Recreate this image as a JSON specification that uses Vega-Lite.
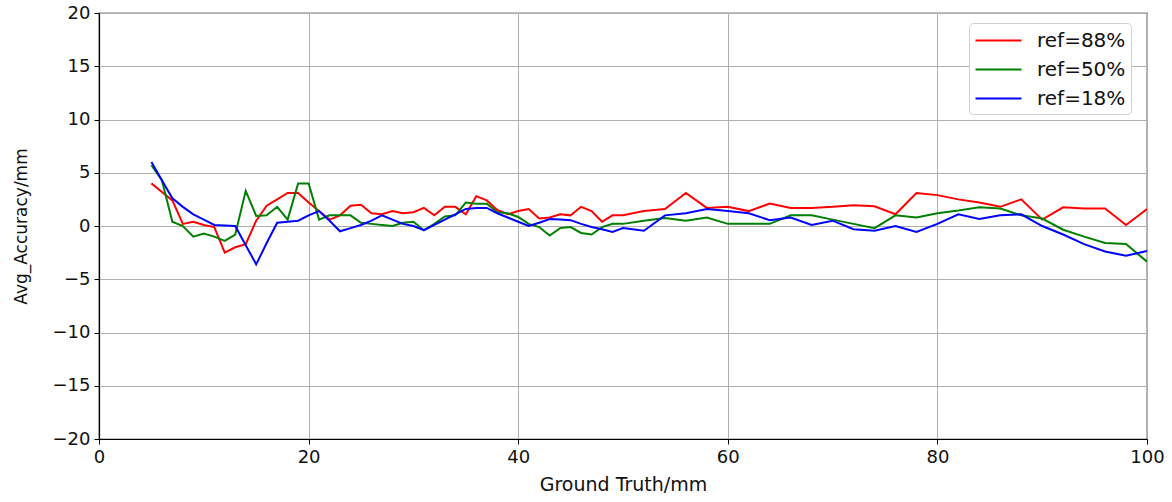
{
  "$schema": "https://vega.github.io/schema/vega-lite/v6.json",
  "width": 1048,
  "height": 426,
  "autosize": {"type": "none"},
  "padding": {"left": 99, "top": 13, "right": 25, "bottom": 63},
  "background": "white",
  "datasets": {
    "pts": [
      {"gt":5,"acc":4.0,"ref":"ref=88%"},{"gt":6,"acc":3.2,"ref":"ref=88%"},{"gt":7,"acc":2.4,"ref":"ref=88%"},{"gt":8,"acc":0.2,"ref":"ref=88%"},{"gt":9,"acc":0.4,"ref":"ref=88%"},{"gt":10,"acc":0.1,"ref":"ref=88%"},{"gt":11,"acc":-0.1,"ref":"ref=88%"},{"gt":12,"acc":-2.5,"ref":"ref=88%"},{"gt":13,"acc":-2.0,"ref":"ref=88%"},{"gt":14,"acc":-1.7,"ref":"ref=88%"},{"gt":15,"acc":0.5,"ref":"ref=88%"},{"gt":16,"acc":1.9,"ref":"ref=88%"},{"gt":17,"acc":2.5,"ref":"ref=88%"},{"gt":18,"acc":3.1,"ref":"ref=88%"},{"gt":19,"acc":3.1,"ref":"ref=88%"},{"gt":20,"acc":2.2,"ref":"ref=88%"},{"gt":21,"acc":1.4,"ref":"ref=88%"},{"gt":22,"acc":0.6,"ref":"ref=88%"},{"gt":23,"acc":1.0,"ref":"ref=88%"},{"gt":24,"acc":1.9,"ref":"ref=88%"},{"gt":25,"acc":2.0,"ref":"ref=88%"},{"gt":26,"acc":1.2,"ref":"ref=88%"},{"gt":27,"acc":1.1,"ref":"ref=88%"},{"gt":28,"acc":1.4,"ref":"ref=88%"},{"gt":29,"acc":1.2,"ref":"ref=88%"},{"gt":30,"acc":1.3,"ref":"ref=88%"},{"gt":31,"acc":1.7,"ref":"ref=88%"},{"gt":32,"acc":1.0,"ref":"ref=88%"},{"gt":33,"acc":1.8,"ref":"ref=88%"},{"gt":34,"acc":1.8,"ref":"ref=88%"},{"gt":35,"acc":1.1,"ref":"ref=88%"},{"gt":36,"acc":2.8,"ref":"ref=88%"},{"gt":37,"acc":2.4,"ref":"ref=88%"},{"gt":38,"acc":1.5,"ref":"ref=88%"},{"gt":39,"acc":1.1,"ref":"ref=88%"},{"gt":40,"acc":1.4,"ref":"ref=88%"},{"gt":41,"acc":1.6,"ref":"ref=88%"},{"gt":42,"acc":0.7,"ref":"ref=88%"},{"gt":43,"acc":0.8,"ref":"ref=88%"},{"gt":44,"acc":1.1,"ref":"ref=88%"},{"gt":45,"acc":1.0,"ref":"ref=88%"},{"gt":46,"acc":1.8,"ref":"ref=88%"},{"gt":47,"acc":1.4,"ref":"ref=88%"},{"gt":48,"acc":0.4,"ref":"ref=88%"},{"gt":49,"acc":1.0,"ref":"ref=88%"},{"gt":50,"acc":1.0,"ref":"ref=88%"},{"gt":52,"acc":1.4,"ref":"ref=88%"},{"gt":54,"acc":1.6,"ref":"ref=88%"},{"gt":56,"acc":3.1,"ref":"ref=88%"},{"gt":58,"acc":1.7,"ref":"ref=88%"},{"gt":60,"acc":1.8,"ref":"ref=88%"},{"gt":62,"acc":1.4,"ref":"ref=88%"},{"gt":64,"acc":2.1,"ref":"ref=88%"},{"gt":66,"acc":1.7,"ref":"ref=88%"},{"gt":68,"acc":1.7,"ref":"ref=88%"},{"gt":70,"acc":1.8,"ref":"ref=88%"},{"gt":72,"acc":1.95,"ref":"ref=88%"},{"gt":74,"acc":1.85,"ref":"ref=88%"},{"gt":76,"acc":1.1,"ref":"ref=88%"},{"gt":78,"acc":3.1,"ref":"ref=88%"},{"gt":80,"acc":2.9,"ref":"ref=88%"},{"gt":82,"acc":2.5,"ref":"ref=88%"},{"gt":84,"acc":2.2,"ref":"ref=88%"},{"gt":86,"acc":1.8,"ref":"ref=88%"},{"gt":88,"acc":2.5,"ref":"ref=88%"},{"gt":90,"acc":0.6,"ref":"ref=88%"},{"gt":92,"acc":1.75,"ref":"ref=88%"},{"gt":94,"acc":1.65,"ref":"ref=88%"},{"gt":96,"acc":1.65,"ref":"ref=88%"},{"gt":98,"acc":0.1,"ref":"ref=88%"},{"gt":100,"acc":1.6,"ref":"ref=88%"},

      {"gt":5,"acc":5.7,"ref":"ref=50%"},{"gt":6,"acc":4.3,"ref":"ref=50%"},{"gt":7,"acc":0.4,"ref":"ref=50%"},{"gt":8,"acc":0.0,"ref":"ref=50%"},{"gt":9,"acc":-1.0,"ref":"ref=50%"},{"gt":10,"acc":-0.7,"ref":"ref=50%"},{"gt":11,"acc":-1.0,"ref":"ref=50%"},{"gt":12,"acc":-1.4,"ref":"ref=50%"},{"gt":13,"acc":-0.8,"ref":"ref=50%"},{"gt":14,"acc":3.3,"ref":"ref=50%"},{"gt":15,"acc":0.95,"ref":"ref=50%"},{"gt":16,"acc":1.0,"ref":"ref=50%"},{"gt":17,"acc":1.8,"ref":"ref=50%"},{"gt":18,"acc":0.6,"ref":"ref=50%"},{"gt":19,"acc":4.0,"ref":"ref=50%"},{"gt":20,"acc":4.0,"ref":"ref=50%"},{"gt":21,"acc":0.6,"ref":"ref=50%"},{"gt":22,"acc":1.0,"ref":"ref=50%"},{"gt":23,"acc":1.0,"ref":"ref=50%"},{"gt":24,"acc":1.0,"ref":"ref=50%"},{"gt":25,"acc":0.3,"ref":"ref=50%"},{"gt":26,"acc":0.2,"ref":"ref=50%"},{"gt":27,"acc":0.1,"ref":"ref=50%"},{"gt":28,"acc":0.0,"ref":"ref=50%"},{"gt":29,"acc":0.3,"ref":"ref=50%"},{"gt":30,"acc":0.4,"ref":"ref=50%"},{"gt":31,"acc":-0.4,"ref":"ref=50%"},{"gt":32,"acc":0.2,"ref":"ref=50%"},{"gt":33,"acc":0.9,"ref":"ref=50%"},{"gt":34,"acc":1.0,"ref":"ref=50%"},{"gt":35,"acc":2.2,"ref":"ref=50%"},{"gt":36,"acc":2.1,"ref":"ref=50%"},{"gt":37,"acc":2.1,"ref":"ref=50%"},{"gt":38,"acc":1.3,"ref":"ref=50%"},{"gt":39,"acc":1.2,"ref":"ref=50%"},{"gt":40,"acc":0.85,"ref":"ref=50%"},{"gt":41,"acc":0.2,"ref":"ref=50%"},{"gt":42,"acc":-0.1,"ref":"ref=50%"},{"gt":43,"acc":-0.9,"ref":"ref=50%"},{"gt":44,"acc":-0.2,"ref":"ref=50%"},{"gt":45,"acc":-0.1,"ref":"ref=50%"},{"gt":46,"acc":-0.65,"ref":"ref=50%"},{"gt":47,"acc":-0.8,"ref":"ref=50%"},{"gt":48,"acc":-0.1,"ref":"ref=50%"},{"gt":49,"acc":0.2,"ref":"ref=50%"},{"gt":50,"acc":0.2,"ref":"ref=50%"},{"gt":52,"acc":0.5,"ref":"ref=50%"},{"gt":54,"acc":0.75,"ref":"ref=50%"},{"gt":56,"acc":0.5,"ref":"ref=50%"},{"gt":58,"acc":0.8,"ref":"ref=50%"},{"gt":60,"acc":0.2,"ref":"ref=50%"},{"gt":62,"acc":0.2,"ref":"ref=50%"},{"gt":64,"acc":0.2,"ref":"ref=50%"},{"gt":66,"acc":1.0,"ref":"ref=50%"},{"gt":68,"acc":1.0,"ref":"ref=50%"},{"gt":70,"acc":0.6,"ref":"ref=50%"},{"gt":72,"acc":0.2,"ref":"ref=50%"},{"gt":74,"acc":-0.2,"ref":"ref=50%"},{"gt":76,"acc":1.0,"ref":"ref=50%"},{"gt":78,"acc":0.8,"ref":"ref=50%"},{"gt":80,"acc":1.2,"ref":"ref=50%"},{"gt":82,"acc":1.45,"ref":"ref=50%"},{"gt":84,"acc":1.75,"ref":"ref=50%"},{"gt":86,"acc":1.65,"ref":"ref=50%"},{"gt":88,"acc":1.0,"ref":"ref=50%"},{"gt":90,"acc":0.7,"ref":"ref=50%"},{"gt":92,"acc":-0.35,"ref":"ref=50%"},{"gt":94,"acc":-1.0,"ref":"ref=50%"},{"gt":96,"acc":-1.6,"ref":"ref=50%"},{"gt":98,"acc":-1.7,"ref":"ref=50%"},{"gt":100,"acc":-3.35,"ref":"ref=50%"},

      {"gt":5,"acc":6.0,"ref":"ref=18%"},{"gt":6,"acc":4.3,"ref":"ref=18%"},{"gt":7,"acc":2.6,"ref":"ref=18%"},{"gt":8,"acc":1.8,"ref":"ref=18%"},{"gt":9,"acc":1.1,"ref":"ref=18%"},{"gt":10,"acc":0.6,"ref":"ref=18%"},{"gt":11,"acc":0.1,"ref":"ref=18%"},{"gt":12,"acc":0.05,"ref":"ref=18%"},{"gt":13,"acc":0.0,"ref":"ref=18%"},{"gt":14,"acc":-1.8,"ref":"ref=18%"},{"gt":15,"acc":-3.6,"ref":"ref=18%"},{"gt":16,"acc":-1.6,"ref":"ref=18%"},{"gt":17,"acc":0.3,"ref":"ref=18%"},{"gt":18,"acc":0.4,"ref":"ref=18%"},{"gt":19,"acc":0.5,"ref":"ref=18%"},{"gt":20,"acc":1.0,"ref":"ref=18%"},{"gt":21,"acc":1.4,"ref":"ref=18%"},{"gt":22,"acc":0.5,"ref":"ref=18%"},{"gt":23,"acc":-0.5,"ref":"ref=18%"},{"gt":24,"acc":-0.2,"ref":"ref=18%"},{"gt":25,"acc":0.1,"ref":"ref=18%"},{"gt":26,"acc":0.5,"ref":"ref=18%"},{"gt":27,"acc":1.0,"ref":"ref=18%"},{"gt":28,"acc":0.6,"ref":"ref=18%"},{"gt":29,"acc":0.2,"ref":"ref=18%"},{"gt":30,"acc":0.0,"ref":"ref=18%"},{"gt":31,"acc":-0.4,"ref":"ref=18%"},{"gt":32,"acc":0.1,"ref":"ref=18%"},{"gt":33,"acc":0.6,"ref":"ref=18%"},{"gt":34,"acc":1.1,"ref":"ref=18%"},{"gt":35,"acc":1.6,"ref":"ref=18%"},{"gt":36,"acc":1.7,"ref":"ref=18%"},{"gt":37,"acc":1.7,"ref":"ref=18%"},{"gt":38,"acc":1.2,"ref":"ref=18%"},{"gt":39,"acc":0.8,"ref":"ref=18%"},{"gt":40,"acc":0.4,"ref":"ref=18%"},{"gt":41,"acc":0.0,"ref":"ref=18%"},{"gt":42,"acc":0.3,"ref":"ref=18%"},{"gt":43,"acc":0.65,"ref":"ref=18%"},{"gt":44,"acc":0.6,"ref":"ref=18%"},{"gt":45,"acc":0.55,"ref":"ref=18%"},{"gt":46,"acc":0.2,"ref":"ref=18%"},{"gt":47,"acc":-0.1,"ref":"ref=18%"},{"gt":48,"acc":-0.3,"ref":"ref=18%"},{"gt":49,"acc":-0.55,"ref":"ref=18%"},{"gt":50,"acc":-0.2,"ref":"ref=18%"},{"gt":52,"acc":-0.45,"ref":"ref=18%"},{"gt":54,"acc":1.0,"ref":"ref=18%"},{"gt":56,"acc":1.2,"ref":"ref=18%"},{"gt":58,"acc":1.6,"ref":"ref=18%"},{"gt":60,"acc":1.4,"ref":"ref=18%"},{"gt":62,"acc":1.2,"ref":"ref=18%"},{"gt":64,"acc":0.55,"ref":"ref=18%"},{"gt":66,"acc":0.8,"ref":"ref=18%"},{"gt":68,"acc":0.1,"ref":"ref=18%"},{"gt":70,"acc":0.5,"ref":"ref=18%"},{"gt":72,"acc":-0.3,"ref":"ref=18%"},{"gt":74,"acc":-0.45,"ref":"ref=18%"},{"gt":76,"acc":0.0,"ref":"ref=18%"},{"gt":78,"acc":-0.55,"ref":"ref=18%"},{"gt":80,"acc":0.2,"ref":"ref=18%"},{"gt":82,"acc":1.1,"ref":"ref=18%"},{"gt":84,"acc":0.65,"ref":"ref=18%"},{"gt":86,"acc":1.0,"ref":"ref=18%"},{"gt":88,"acc":1.1,"ref":"ref=18%"},{"gt":90,"acc":0.0,"ref":"ref=18%"},{"gt":92,"acc":-0.8,"ref":"ref=18%"},{"gt":94,"acc":-1.7,"ref":"ref=18%"},{"gt":96,"acc":-2.4,"ref":"ref=18%"},{"gt":98,"acc":-2.8,"ref":"ref=18%"},{"gt":100,"acc":-2.35,"ref":"ref=18%"}
    ]
  },
  "data": {"name": "pts"},
  "mark": {"type": "line", "strokeWidth": 2, "clip": true},
  "encoding": {
    "x": {
      "field": "gt", "type": "quantitative",
      "scale": {"domain": [0, 100], "nice": false, "zero": false},
      "axis": {"title": "Ground Truth/mm", "values": [0, 20, 40, 60, 80, 100], "titlePadding": 9, "titleFontSize": 19, "labelFlush": false}
    },
    "y": {
      "field": "acc", "type": "quantitative",
      "scale": {"domain": [-20, 20], "nice": false},
      "axis": {"title": "Avg_Accuracy/mm", "values": [-20, -15, -10, -5, 0, 5, 10, 15, 20], "titlePadding": 22, "titleFontSize": 17, "labelFlush": false}
    },
    "color": {
      "field": "ref", "type": "nominal",
      "scale": {"domain": ["ref=88%", "ref=50%", "ref=18%"], "range": ["#ff0000", "#008000", "#0000ff"]},
      "sort": ["ref=88%", "ref=50%", "ref=18%"],
      "legend": {
        "title": null,
        "orient": "none",
        "legendX": 870,
        "legendY": 10,
        "symbolType": "M-2,0H2",
        "symbolSize": 529,
        "symbolOffset": 12,
        "symbolStrokeWidth": 2,
        "labelFontSize": 20,
        "labelOffset": 26,
        "rowPadding": 6,
        "padding": 5,
        "strokeColor": "#d0d0d0",
        "fillColor": "white",
        "cornerRadius": 4
      }
    }
  },
  "config": {
    "font": "DejaVu Sans",
    "view": {"stroke": "black", "strokeWidth": 1.2},
    "axis": {
      "labelFont": "DejaVu Sans",
      "titleFont": "DejaVu Sans",
      "labelFontSize": 18,
      "titleFontWeight": "normal",
      "labelColor": "#111111",
      "titleColor": "#111111",
      "domainColor": "black",
      "domainWidth": 1.2,
      "tickColor": "black",
      "tickSize": 5,
      "tickWidth": 1,
      "labelPadding": 4,
      "grid": true,
      "gridColor": "#b0b0b0",
      "gridWidth": 1
    },
    "legend": {"labelFont": "DejaVu Sans", "labelColor": "#111111"}
  }
}
